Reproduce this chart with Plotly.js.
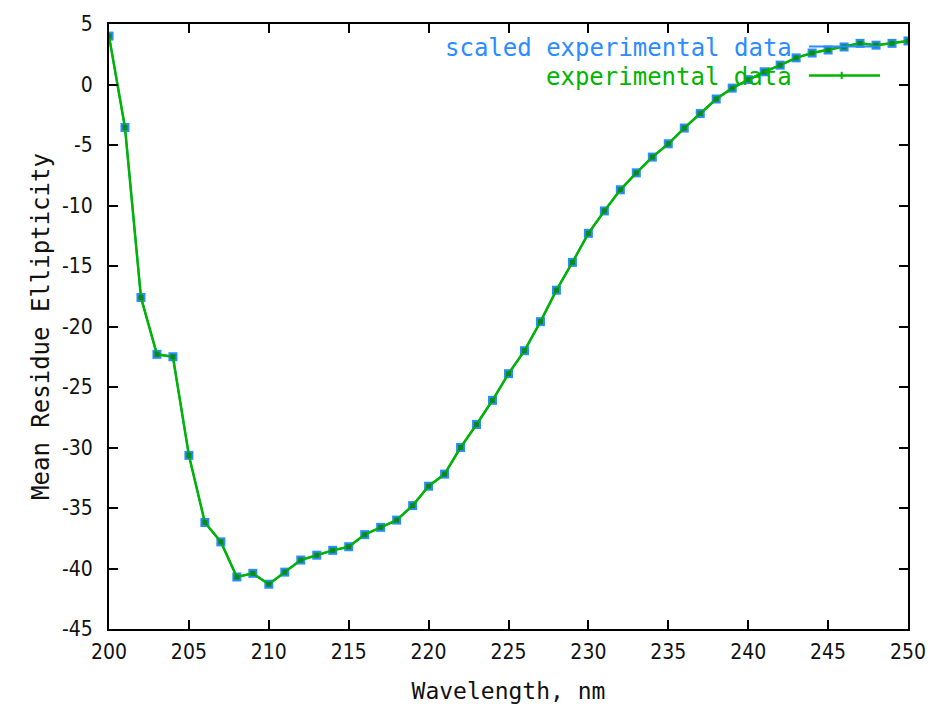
<!DOCTYPE html>
<html>
<head>
<meta charset="utf-8">
<script src="https://cdn.plot.ly/plotly-3.0.1.min.js"></script>
<style>
html,body{margin:0;padding:0;background:#fff;}
#chart{width:942px;height:715px;}
</style>
</head>
<body>
<div id="chart"></div>
<script>
// Wavelength (nm)
const wavelength = [200,201,202,203,204,205,206,207,208,209,210,211,212,213,214,215,216,217,218,219,220,221,222,223,224,225,226,227,228,229,230,231,232,233,234,235,236,237,238,239,240,241,242,243,244,245,246,247,248,249,250];
// Scaled experimental data (mean residue ellipticity)
const scaledData = [4.0,-3.55,-17.6,-22.3,-22.5,-30.65,-36.2,-37.8,-40.7,-40.4,-41.3,-40.3,-39.3,-38.9,-38.5,-38.2,-37.2,-36.6,-36.0,-34.8,-33.2,-32.2,-30.0,-28.1,-26.1,-23.9,-22.0,-19.6,-17.0,-14.7,-12.3,-10.45,-8.7,-7.3,-6.0,-4.9,-3.6,-2.4,-1.2,-0.3,0.4,1.05,1.6,2.2,2.6,2.85,3.1,3.4,3.25,3.4,3.6];
// Experimental data
const expData = [4.0,-3.55,-17.6,-22.3,-22.5,-30.65,-36.2,-37.8,-40.7,-40.4,-41.3,-40.3,-39.3,-38.9,-38.5,-38.2,-37.2,-36.6,-36.0,-34.8,-33.2,-32.2,-30.0,-28.1,-26.1,-23.9,-22.0,-19.6,-17.0,-14.7,-12.3,-10.45,-8.7,-7.3,-6.0,-4.9,-3.6,-2.4,-1.2,-0.3,0.4,1.05,1.6,2.2,2.6,2.85,3.1,3.4,3.25,3.4,3.6];
// Tick labels
const yTickVals = [5,0,-5,-10,-15,-20,-25,-30,-35,-40,-45];
const yTickText = ["5","0","-5","-10","-15","-20","-25","-30","-35","-40","-45"];
const xTickVals = [200,205,210,215,220,225,230,235,240,245,250];
const seriesNames = ["scaled experimental data","experimental data"];

const BLUE = "#2a8cff";
const GREEN = "#00b400";
const monoFont = "DejaVu Sans Mono, Liberation Mono, monospace";
const tickFont = {family: "DejaVu Sans Condensed, DejaVu Sans, sans-serif", size: 21, color: "#111"};

const traces = [
  {
    x: wavelength, y: scaledData, name: seriesNames[0],
    mode: "lines+markers", type: "scatter",
    line: {color: BLUE, width: 2},
    marker: {symbol: "square", size: 9, color: BLUE},
    showlegend: false, cliponaxis: true
  },
  {
    x: wavelength, y: expData, name: seriesNames[1],
    mode: "lines+markers", type: "scatter",
    line: {color: GREEN, width: 2.5},
    marker: {symbol: "square", size: 5, color: "#0a8a1a"},
    showlegend: false, cliponaxis: true
  }
];

const axisCommon = {
  showline: true, linecolor: "#000", linewidth: 2, mirror: "ticks",
  ticks: "inside", ticklen: 9, tickwidth: 2, tickcolor: "#000",
  showgrid: false, zeroline: false, tickfont: tickFont
};

const layout = {
  width: 942, height: 715,
  margin: {l: 109, r: 34, t: 24, b: 86},
  paper_bgcolor: "#fff", plot_bgcolor: "#fff",
  showlegend: false,
  xaxis: Object.assign({}, axisCommon, {
    range: [200, 250], tickvals: xTickVals, ticklabelstandoff: 3,
    title: {text: "Wavelength, nm", font: {family: monoFont, size: 23, color: "#111"}, standoff: 20}
  }),
  yaxis: Object.assign({}, axisCommon, {
    range: [-45, 5], tickvals: yTickVals, ticktext: yTickText, ticklabelstandoff: 10,
    title: {text: "Mean Residue Ellipticity", font: {family: monoFont, size: 24, color: "#111"}, standoff: 6}
  }),
  annotations: [
    {xref: "paper", yref: "paper", x: 0.857, y: 0.96, xanchor: "right", yanchor: "middle",
     text: seriesNames[0], showarrow: false, font: {family: monoFont, size: 24, color: BLUE}},
    {xref: "paper", yref: "paper", x: 0.857, y: 0.912, xanchor: "right", yanchor: "middle",
     text: seriesNames[1], showarrow: false, font: {family: monoFont, size: 24, color: GREEN}}
  ],
  shapes: [
    {type: "line", xref: "paper", yref: "paper", x0: 0.876, x1: 0.965, y0: 0.963, y1: 0.963,
     line: {color: BLUE, width: 2}},
    {type: "line", xref: "paper", yref: "paper", x0: 0.876, x1: 0.965, y0: 0.915, y1: 0.915,
     line: {color: GREEN, width: 2.5}},
    {type: "line", xref: "paper", yref: "paper", x0: 0.917, x1: 0.917, y0: 0.909, y1: 0.921,
     line: {color: GREEN, width: 2}}
  ]
};

Plotly.newPlot("chart", traces, layout, {displayModeBar: false, staticPlot: true});
</script>
</body>
</html>
